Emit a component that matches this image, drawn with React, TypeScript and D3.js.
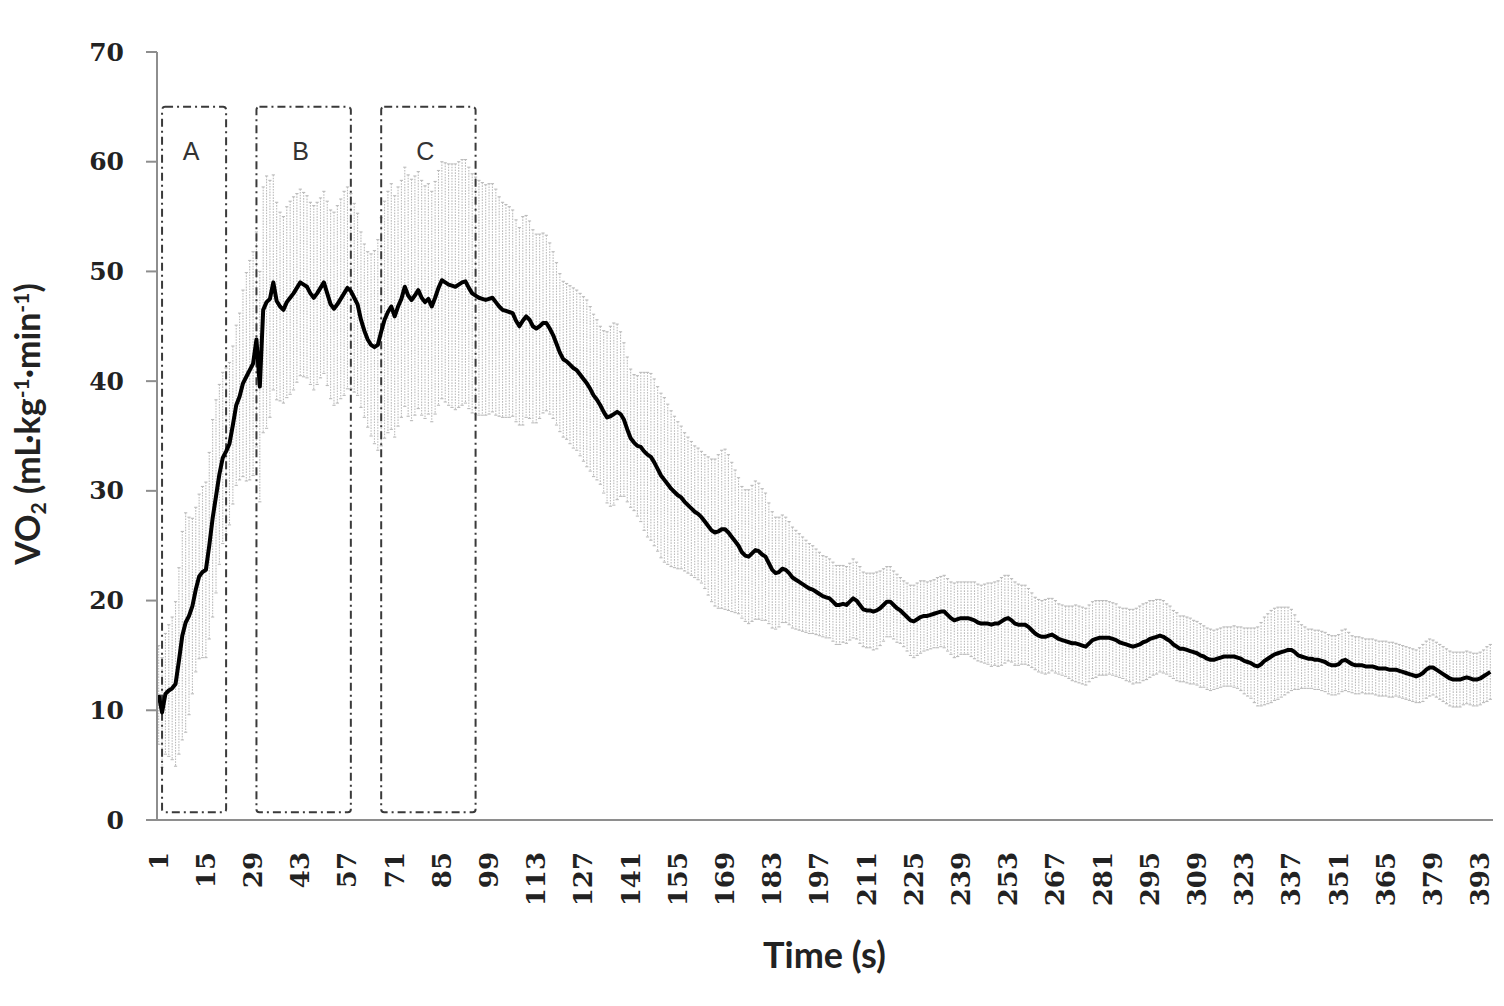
import * as d3 from "d3";

// VO2 response over time: mean line with SD error bars
// phases A, B, C marked with dash-dot boxes

const seconds: number[] = d3.range(1, 397);

const xTickLabels = [1, 15, 29, 43, 57, 71, 85, 99, 113, 127, 141, 155, 169, 183, 197, 211, 225, 239, 253, 267, 281, 295, 309, 323, 337, 351, 365, 379, 393];
const yTicks = [0, 10, 20, 30, 40, 50, 60, 70];

const meanVO2 = [
  11.4, 9.8, 11.5, 11.8, 12.0, 12.4, 14.5, 16.8, 18.0, 18.6,
  19.5, 21.0, 22.2, 22.6, 22.8, 25.0, 27.5, 29.5, 31.5, 33.0,
  33.6, 34.3, 36.0, 37.8, 38.6, 39.8, 40.4, 41.0, 41.6, 43.8,
  39.5, 46.5, 47.2, 47.5, 49.0, 47.3, 46.8, 46.5, 47.2, 47.6,
  48.0, 48.5, 49.0, 48.8, 48.6, 48.0, 47.6, 48.0, 48.5, 49.0,
  48.0, 47.0, 46.6, 47.0, 47.5, 48.0, 48.5, 48.2, 47.6, 47.0,
  45.6, 44.6, 43.8, 43.3, 43.1, 43.3, 44.5, 45.6, 46.3, 46.8,
  45.9, 46.8, 47.5, 48.6, 47.8, 47.4, 47.8, 48.3, 47.6, 47.2,
  47.5, 46.8, 47.6, 48.5, 49.2, 49.0, 48.8, 48.7, 48.6, 48.8,
  49.0, 49.1, 48.5, 48.0, 47.8, 47.6, 47.5, 47.4, 47.5, 47.6,
  47.2, 46.8, 46.5, 46.4, 46.3, 46.2, 45.5, 45.0, 45.5, 45.9,
  45.6, 45.0, 44.8, 45.0, 45.3, 45.3, 44.8, 44.2, 43.4, 42.6,
  42.0, 41.8, 41.5, 41.2, 41.0, 40.6, 40.2, 39.8, 39.3, 38.7,
  38.3, 37.8, 37.2, 36.7, 36.8, 37.0, 37.2, 37.0, 36.5, 35.6,
  34.8, 34.4, 34.1, 34.0, 33.6, 33.3, 33.1, 32.6, 32.0, 31.4,
  31.0, 30.6, 30.2, 29.9, 29.6, 29.4, 29.0, 28.7, 28.4, 28.1,
  27.9, 27.6, 27.2, 26.8, 26.4, 26.2, 26.3, 26.5, 26.5, 26.2,
  25.8, 25.4, 25.0, 24.4, 24.1, 24.0, 24.3, 24.6, 24.5, 24.2,
  24.0, 23.4, 22.8, 22.5, 22.6, 22.9, 22.8, 22.5, 22.1, 21.9,
  21.7, 21.5, 21.3, 21.1, 21.0, 20.8, 20.6, 20.4, 20.3, 20.2,
  19.9, 19.6, 19.6, 19.7, 19.6, 19.9, 20.2, 20.0, 19.6, 19.2,
  19.1, 19.1, 19.0, 19.1, 19.3, 19.6, 19.9, 19.9, 19.6, 19.3,
  19.1, 18.8, 18.5, 18.2, 18.1, 18.3, 18.5, 18.6, 18.6, 18.7,
  18.8, 18.9, 19.0, 19.0, 18.7, 18.4, 18.2, 18.3, 18.4, 18.4,
  18.4, 18.3, 18.2, 18.0, 17.9, 17.9, 17.9, 17.8, 17.9, 17.9,
  18.1, 18.3, 18.4, 18.2, 17.9, 17.8, 17.8, 17.8, 17.6, 17.3,
  17.0, 16.8, 16.7, 16.7, 16.8, 16.9, 16.7, 16.5, 16.4, 16.3,
  16.2, 16.1, 16.1, 16.0, 15.9, 15.8, 16.1, 16.4, 16.5, 16.6,
  16.6, 16.6, 16.6, 16.5, 16.4, 16.2, 16.1, 16.0, 15.9, 15.8,
  15.9, 16.0, 16.2, 16.3, 16.5, 16.6, 16.7, 16.8, 16.7, 16.5,
  16.3, 16.0, 15.8, 15.6, 15.6, 15.5, 15.4, 15.3, 15.2, 15.0,
  14.9, 14.7, 14.6, 14.6, 14.7, 14.8, 14.9, 14.9, 14.9, 14.9,
  14.8, 14.7, 14.5, 14.4, 14.3, 14.1, 14.0, 14.2, 14.5, 14.7,
  14.9, 15.1, 15.2, 15.3, 15.4, 15.5, 15.5, 15.3, 15.0, 14.9,
  14.8, 14.7, 14.7, 14.6, 14.6, 14.5, 14.4, 14.2, 14.1, 14.1,
  14.2, 14.5, 14.6, 14.4, 14.2, 14.1, 14.1, 14.1, 14.0, 14.0,
  14.0, 13.9, 13.8, 13.8, 13.8, 13.7, 13.7, 13.7, 13.6, 13.5,
  13.4, 13.3, 13.2, 13.1, 13.2, 13.4, 13.7, 13.9, 13.9, 13.7,
  13.5, 13.3, 13.1, 12.9, 12.8, 12.8, 12.8, 12.9, 13.0, 12.9,
  12.8, 12.8, 12.9, 13.1, 13.3, 13.5,
];

const sdVO2 = [
  4.5, 5.0, 5.5, 6.0, 6.5, 7.5, 8.5, 9.5, 10.0, 9.0,
  8.0, 7.5, 7.5, 7.8, 8.0, 8.5, 9.0, 8.8, 8.2, 7.8,
  7.6, 7.4, 7.2, 7.3, 7.6, 8.5, 9.5, 10.0, 10.2, 9.8,
  10.5, 11.2, 11.5, 10.8, 9.8, 9.0, 8.6, 8.5, 8.7, 8.8,
  8.8, 8.6, 8.5, 8.4, 8.3, 8.3, 8.4, 8.3, 8.2, 8.3,
  8.4, 8.6, 8.8, 9.0, 9.1, 9.3, 9.2, 8.9, 8.6, 8.3,
  8.0, 7.9, 8.0, 8.3, 8.8, 9.6, 10.4, 10.8, 11.0, 11.2,
  11.0, 10.9, 10.8, 10.9, 11.0, 11.0, 10.9, 10.8, 10.7, 10.6,
  10.5, 10.5, 10.6, 10.7, 10.8, 10.9, 11.0, 11.1, 11.2, 11.2,
  11.2, 11.1, 11.0, 10.9, 10.8, 10.7, 10.6, 10.5, 10.5, 10.4,
  10.3, 10.0, 9.8, 9.7, 9.6, 9.4, 9.2, 9.0, 9.5, 9.2,
  9.0, 8.8, 8.6, 8.4, 8.2, 8.0, 7.8, 7.6, 7.4, 7.2,
  7.1, 7.1, 7.2, 7.3, 7.3, 7.4, 7.5, 7.6, 7.5, 7.4,
  7.3, 7.2, 7.4, 7.8, 8.2, 8.3, 8.0, 7.5, 7.0, 6.6,
  6.3, 6.2, 6.4, 6.8, 7.2, 7.5, 7.6, 7.6, 7.5, 7.5,
  7.5, 7.3, 7.1, 6.9, 6.7, 6.5, 6.3, 6.2, 6.1, 6.0,
  6.0, 6.0, 6.1, 6.3, 6.5, 6.7, 7.0, 7.2, 7.3, 7.1,
  6.8, 6.5, 6.2, 6.0, 6.0, 6.1, 6.2, 6.3, 6.2, 6.0,
  5.8, 5.5, 5.3, 5.1, 5.0, 4.9, 4.8, 4.7, 4.6, 4.5,
  4.4, 4.3, 4.2, 4.1, 4.0, 3.9, 3.8, 3.7, 3.7, 3.6,
  3.6, 3.6, 3.6, 3.5, 3.5, 3.5, 3.6, 3.5, 3.5, 3.4,
  3.4, 3.4, 3.5, 3.5, 3.4, 3.3, 3.2, 3.2, 3.1, 3.1,
  3.0, 3.0, 3.1, 3.2, 3.3, 3.3, 3.3, 3.2, 3.1, 3.1,
  3.1, 3.2, 3.2, 3.3, 3.3, 3.3, 3.4, 3.4, 3.3, 3.3,
  3.3, 3.4, 3.5, 3.5, 3.5, 3.6, 3.7, 3.8, 3.8, 3.9,
  4.0, 4.0, 3.9, 3.8, 3.8, 3.7, 3.6, 3.6, 3.5, 3.4,
  3.3, 3.3, 3.3, 3.4, 3.4, 3.3, 3.3, 3.2, 3.2, 3.2,
  3.3, 3.4, 3.5, 3.5, 3.5, 3.5, 3.5, 3.5, 3.5, 3.4,
  3.4, 3.4, 3.3, 3.3, 3.3, 3.2, 3.2, 3.3, 3.3, 3.4,
  3.4, 3.5, 3.5, 3.5, 3.5, 3.4, 3.4, 3.3, 3.3, 3.2,
  3.2, 3.1, 3.1, 3.0, 3.0, 3.0, 3.0, 2.9, 2.9, 2.9,
  2.8, 2.8, 2.8, 2.7, 2.7, 2.7, 2.7, 2.7, 2.7, 2.8,
  2.8, 2.9, 3.0, 3.1, 3.2, 3.4, 3.6, 3.8, 4.0, 4.1,
  4.2, 4.2, 4.2, 4.1, 4.0, 3.9, 3.7, 3.4, 3.1, 2.9,
  2.8, 2.7, 2.7, 2.7, 2.7, 2.7, 2.7, 2.7, 2.7, 2.7,
  2.7, 2.8, 2.8, 2.7, 2.6, 2.6, 2.6, 2.5, 2.5, 2.5,
  2.5, 2.5, 2.5, 2.5, 2.5, 2.5, 2.5, 2.4, 2.4, 2.4,
  2.4, 2.4, 2.4, 2.4, 2.5, 2.6, 2.6, 2.6, 2.5, 2.5,
  2.5, 2.5, 2.5, 2.5, 2.5, 2.5, 2.5, 2.4, 2.4, 2.4,
  2.4, 2.4, 2.4, 2.4, 2.5, 2.5,
];

// phase windows (s) and the box height (VO2 units)
const phaseNames = ["A", "B", "C"];
const phaseStart = [2, 30, 67];
const phaseEnd = [21, 58, 95];
const phaseTop = 65;
const phaseBottom = 0.7;
const phaseLabelY = 61;

const width = 1504;
const height = 1006;
const marginLeft = 157;
const marginRight = 12;
const marginTop = 52;
const marginBottom = 186;

const tickFont = "'DejaVu Serif', serif";
const titleFont = "Lato, 'Liberation Sans', sans-serif";

export default function App() {
  const x = d3.scaleBand<number>().domain(seconds).range([marginLeft, width - marginRight]);
  const cx = (s: number) => (x(s) as number) + x.bandwidth() / 2;
  const y = d3.scaleLinear().domain([0, 70]).range([height - marginBottom, marginTop]);

  const line = d3
    .line<number>()
    .x((_, i) => cx(seconds[i]))
    .y((d) => y(d));

  const axisColor = "#8e8e8e";
  const y0 = y(0);

  return (
    <>
      <style>{`body{margin:0;background:#fff}`}</style>
      <svg width={width} height={height} style={{ display: "block" }}>
        <rect width={width} height={height} fill="#fff" />

        {/* SD error bars */}
        <g stroke="#bcbcbc" strokeWidth={1.1}>
          {seconds.map((s, i) => {
            const top = y(meanVO2[i] + sdVO2[i]);
            const bot = y(meanVO2[i] - sdVO2[i]);
            return (
              <g key={s}>
                <line x1={cx(s)} x2={cx(s)} y1={top} y2={bot} strokeDasharray="1.6 1.2" />
                <line x1={cx(s) - 1.6} x2={cx(s) + 1.6} y1={top} y2={top} />
                <line x1={cx(s) - 1.6} x2={cx(s) + 1.6} y1={bot} y2={bot} />
              </g>
            );
          })}
        </g>

        {/* phase boxes */}
        <g fill="none" stroke="#3a3a3a" strokeWidth={2} strokeDasharray="8 4 2 4">
          {phaseNames.map((p, i) => (
            <rect
              key={p}
              x={cx(phaseStart[i])}
              y={y(phaseTop)}
              width={cx(phaseEnd[i]) - cx(phaseStart[i])}
              height={y(phaseBottom) - y(phaseTop)}
              rx={3}
            />
          ))}
        </g>
        {phaseNames.map((p, i) => (
          <text
            key={p}
            x={(cx(phaseStart[i]) + cx(phaseEnd[i])) / 2 - 3}
            y={y(phaseLabelY)}
            textAnchor="middle"
            dominantBaseline="central"
            fontFamily="'Liberation Sans', Arial, sans-serif"
            fontSize={25}
            fill="#333"
          >
            {p}
          </text>
        ))}

        {/* mean line */}
        <path d={line(meanVO2) ?? ""} fill="none" stroke="#000" strokeWidth={4} strokeLinejoin="round" />

        {/* axes */}
        <line x1={marginLeft} x2={marginLeft} y1={y(70)} y2={y0} stroke={axisColor} strokeWidth={2} />
        <line x1={marginLeft - 11} x2={width - marginRight + 1} y1={y0} y2={y0} stroke={axisColor} strokeWidth={2} />
        {yTicks.map((t) => (
          <g key={t}>
            <line x1={marginLeft - 11} x2={marginLeft} y1={y(t)} y2={y(t)} stroke={axisColor} strokeWidth={2} />
            <text
              x={124}
              y={y(t)}
              textAnchor="end"
              dominantBaseline="central"
              fontFamily={tickFont}
              fontWeight="bold"
              fontSize={25}
              fill="#222"
            >
              {t}
            </text>
          </g>
        ))}
        {xTickLabels.map((t) => (
          <text
            key={t}
            transform={`translate(${cx(t)},${y0 + 32}) rotate(-90)`}
            textAnchor="end"
            dominantBaseline="central"
            fontFamily={tickFont}
            fontWeight="bold"
            fontSize={26}
            fill="#222"
          >
            {t}
          </text>
        ))}

        {/* axis titles */}
        <text
          x={(marginLeft + width - marginRight) / 2}
          y={968}
          textAnchor="middle"
          fontFamily={titleFont}
          fontWeight="bold"
          fontSize={36}
          fill="#222"
        >
          Time (s)
        </text>
        <text
          transform={`translate(40,424) rotate(-90)`}
          textAnchor="middle"
          fontFamily={titleFont}
          fontWeight="bold"
          fontSize={34}
          fill="#222"
        >
          VO<tspan fontSize={21} dy={6}>2</tspan>
          <tspan dy={-6}> (mL·kg</tspan>
          <tspan fontSize={21} dy={-11}>-1</tspan>
          <tspan dy={11}>·min</tspan>
          <tspan fontSize={21} dy={-11}>-1</tspan>
          <tspan dy={11}>)</tspan>
        </text>
      </svg>
    </>
  );
}
